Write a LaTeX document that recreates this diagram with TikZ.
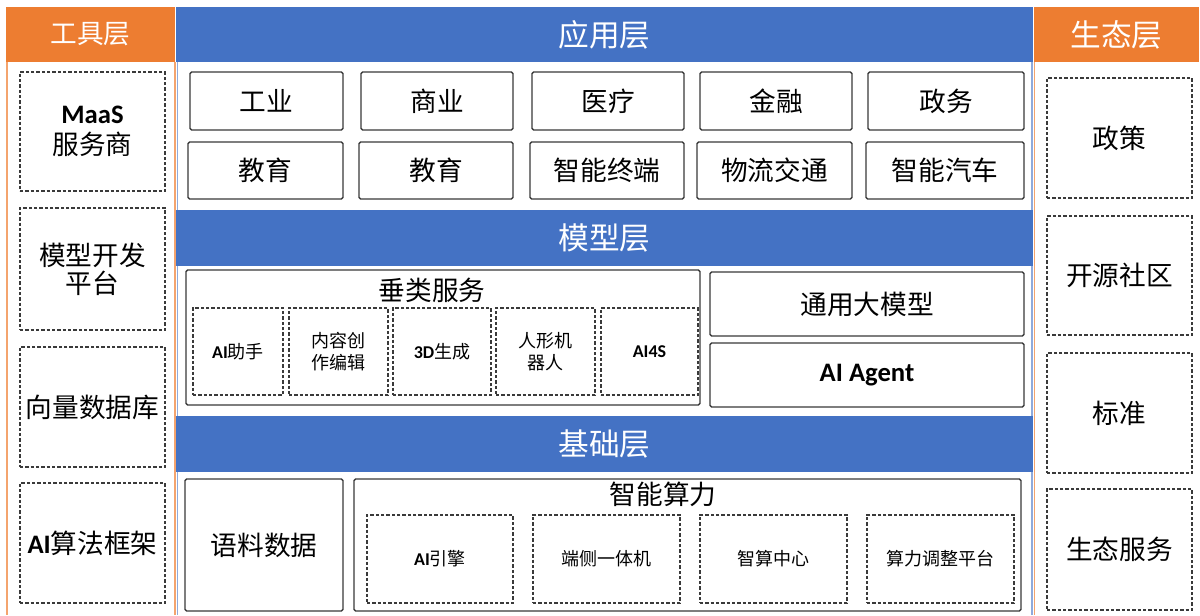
\documentclass[tikz,border=0pt]{standalone}
\usepackage{fontspec}
\setmainfont{Noto Sans CJK SC}
\newfontfamily\lat{Carlito}
\definecolor{hblue}{HTML}{4472C4}
\definecolor{horange}{HTML}{ED7D31}
\definecolor{lblue}{HTML}{8FAADC}
\definecolor{lorange}{HTML}{F4A46E}
\definecolor{boxline}{HTML}{3A3A3A}
\newcommand{\bx}[7]{%
  \pgfmathsetmacro\bxw{(#4-#2)*0.75}%
  \pgfmathsetmacro\bxh{(#5-#3)*0.75}%
  \node[#6, minimum width=\bxw pt, minimum height=\bxh pt] (#1) at ({(#2+#4)/2},{(#3+#5)/2}) {#7};}
\newcommand{\bigf}{\fontsize{20}{20}\selectfont}
\newcommand{\smallf}{\fontsize{13.5}{16}\selectfont}
\newcommand{\headf}{\fontsize{23}{26}\selectfont}
\newcommand{\latb}[1]{{\lat\bfseries #1}}
\begin{document}
\begin{tikzpicture}[x=0.75pt,y=-0.75pt,
  bluebar/.style={fill=hblue, draw=none, inner sep=0pt, text=white, font=\headf},
  orangebar/.style={fill=horange, draw=none, inner sep=0pt, text=white, font=\headf},
  solidbox/.style={draw=boxline, line width=1.1pt, rounded corners=1.2pt, fill=white, inner sep=0pt, align=center, font=\bigf},
  dashbox/.style={draw=boxline, line width=1.1pt, dash pattern=on 2.6pt off 1.4pt, inner sep=0pt, align=center, font=\bigf},
  smalldash/.style={dashbox, font=\smallf},
  title/.style={inner sep=0pt, font=\bigf},
  edgeline/.style={line width=1.1pt}]
\useasboundingbox (0,0) rectangle (1200,615);
\fill[white] (0,0) rectangle (1200,615);
% column frames
\draw[edgeline, lorange] (7,62) -- (7,615);
\draw[edgeline, lorange] (175,62) -- (175,615);
\draw[edgeline, lblue] (177.5,62) -- (177.5,615);
\draw[edgeline, lblue] (1032,62) -- (1032,615);
\draw[edgeline, lorange] (1034.5,62) -- (1034.5,615);
% headers
\bx{tool}{6}{7}{175}{62}{orangebar}{\fontsize{20}{24}\selectfont 工具层}
\bx{eco}{1034}{7}{1199}{62}{orangebar}{生态层}
\bx{app}{176}{7}{1033}{62}{bluebar}{应用层}
\bx{model}{176}{210}{1033}{266}{bluebar}{模型层}
\bx{base}{176}{416}{1033}{472}{bluebar}{基础层}
% tool column
\bx{t1}{20}{72}{165}{191}{dashbox}{\latb{MaaS}\\[3pt]服务商}
\bx{t2}{20}{208}{165}{330}{dashbox}{模型开发\\[1pt]平台}
\bx{t3}{20}{347}{165}{467}{dashbox}{向量数据库}
\bx{t4}{20}{483}{165}{603}{dashbox}{\latb{AI}算法框架}
% eco column
\bx{e1}{1047}{78}{1192}{198}{dashbox}{政策}
\bx{e2}{1047}{216}{1192}{335}{dashbox}{开源社区}
\bx{e3}{1047}{353}{1192}{473}{dashbox}{标准}
\bx{e4}{1047}{489}{1192}{610}{dashbox}{生态服务}
% application layer
\bx{a1}{190}{72}{343}{130}{solidbox}{工业}
\bx{a2}{361}{72}{513}{130}{solidbox}{商业}
\bx{a3}{532}{72}{684}{130}{solidbox}{医疗}
\bx{a4}{700}{72}{852}{130}{solidbox}{金融}
\bx{a5}{868}{72}{1024}{130}{solidbox}{政务}
\bx{b1}{188}{142}{343}{199}{solidbox}{教育}
\bx{b2}{359}{142}{513}{199}{solidbox}{教育}
\bx{b3}{530}{142}{684}{199}{solidbox}{智能终端}
\bx{b4}{697}{142}{852}{199}{solidbox}{物流交通}
\bx{b5}{866}{142}{1024}{199}{solidbox}{智能汽车}
% model layer
\bx{vert}{186}{270}{700}{405}{solidbox}{}
\node[title] (verttitle) at (432,290) {垂类服务};
\bx{v1}{193}{308}{283}{395}{smalldash}{\latb{AI}助手}
\bx{v2}{289}{308}{388}{395}{smalldash}{内容创\\作编辑}
\bx{v3}{393}{308}{491}{395}{smalldash}{\latb{3D}生成}
\bx{v4}{496}{308}{595}{395}{smalldash}{人形机\\器人}
\bx{v5}{601}{308}{698}{395}{smalldash}{\latb{AI4S}}
\bx{gm}{710}{272}{1024}{336}{solidbox}{通用大模型}
\bx{agent}{710}{343}{1024}{407}{solidbox}{\latb{AI Agent}}
% base layer
\bx{data}{185}{479}{343}{611}{solidbox}{语料数据}
\bx{comp}{354}{479}{1021}{611}{solidbox}{}
\node[title] (comptitle) at (663,494) {智能算力};
\bx{c1}{367}{515}{513}{603}{smalldash}{\latb{AI}引擎}
\bx{c2}{533}{515}{680}{603}{smalldash}{端侧一体机}
\bx{c3}{700}{515}{847}{603}{smalldash}{智算中心}
\bx{c4}{867}{515}{1014}{603}{smalldash}{算力调整平台}
\end{tikzpicture}
\end{document}
